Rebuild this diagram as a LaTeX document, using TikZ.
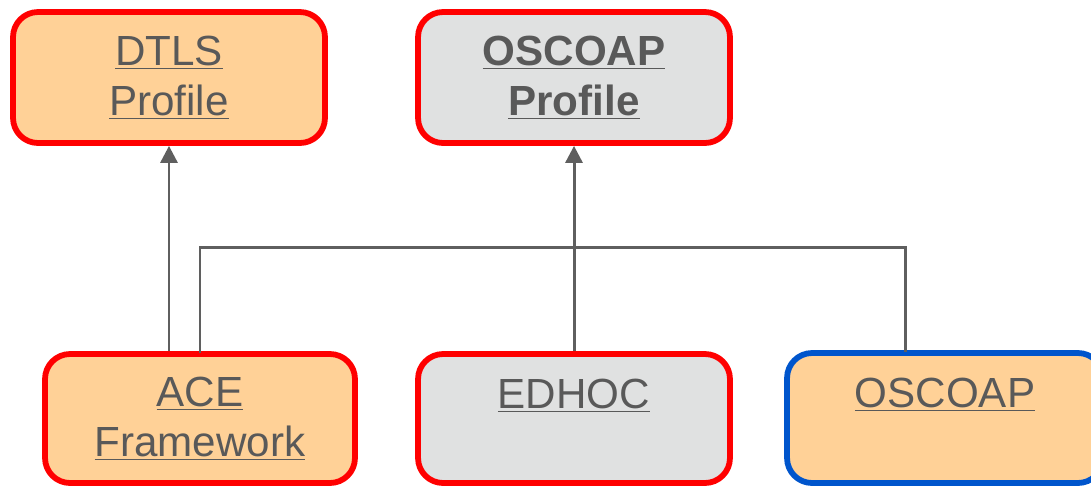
\documentclass[tikz,border=0pt]{standalone}
\usepackage{fontspec}
\setmainfont{Liberation Sans}
\usepackage{tikz}
\usetikzlibrary{arrows.meta}

\definecolor{boxorange}{HTML}{FFD197}
\definecolor{boxgray}{HTML}{E0E1E1}
\definecolor{boxred}{HTML}{FF0000}
\definecolor{boxblue}{HTML}{0055CC}
\definecolor{textgray}{HTML}{595959}
\definecolor{linegray}{HTML}{5F5F5F}

\tikzset{
  spec/.style={rectangle, rounded corners=0.5cm, line width=3.3pt, draw=boxred,
    align=center, text=textgray, inner sep=0pt,
    font=\fontsize{24}{28.45}\selectfont},
  draft/.style={spec, fill=boxorange},
  wg/.style={spec, fill=boxgray},
  link/.style={draw=linegray, line width=1.7pt},
  uses/.style={link, -{Triangle[width=0.34cm,length=0.34cm]}}
}

\begin{document}
\begin{tikzpicture}[x=0.02cm, y=-0.02cm]
  \useasboundingbox (0,0) rectangle (1091,488);
  \node[draft, minimum width=6.24cm, minimum height=2.62cm] (node0) at (169,77.5) {\underline{DTLS}\\\underline{Profile}};
  \node[wg, minimum width=6.24cm, minimum height=2.62cm] (node1) at (574,77.5) {\bfseries\underline{OSCOAP}\\\bfseries\underline{Profile}};
  \node[draft, minimum width=6.2cm, minimum height=2.58cm] (node2) at (200,418.5) {\underline{ACE}\\\underline{Framework}};
  \node[wg, minimum width=6.24cm, minimum height=2.58cm] (node3) at (574,418.5) {\underline{EDHOC}\\\phantom{Framework}};
  \node[draft, draw=boxblue, minimum width=6.32cm, minimum height=2.6cm] (node4) at (945,418) {\underline{OSCOAP}\\\phantom{Framework}};
  \coordinate (tap) at (905,247);
  \draw[uses] (node2.north -| node0.south) -- (node0.south);
  \draw[uses] (node3.north) -- (node1.south);
  \draw[link, line cap=rect] (node2.north) |- (tap) -- (tap |- node4.north);
\end{tikzpicture}
\end{document}
